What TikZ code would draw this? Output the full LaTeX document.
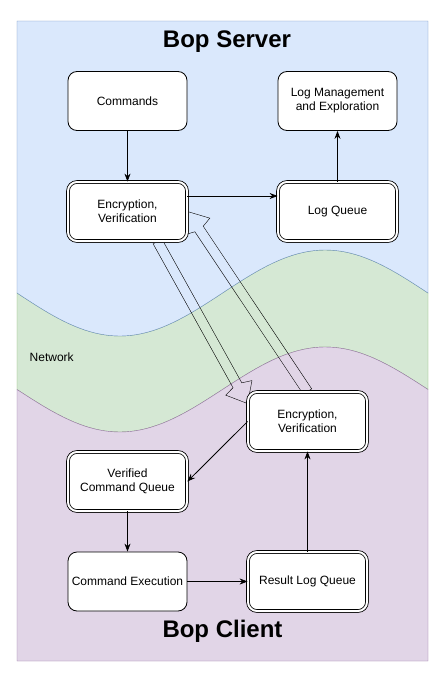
\documentclass[tikz,border=0pt]{standalone}
\usepackage{fontspec}
\setmainfont{Liberation Sans}
\usetikzlibrary{positioning}
\usetikzlibrary{arrows.meta}
\usetikzlibrary{calc}
\definecolor{serverblue}{HTML}{DAE8FC}
\definecolor{serverline}{HTML}{6C8EBF}
\definecolor{netgreen}{HTML}{D5E8D4}
\definecolor{netline}{HTML}{82B366}
\definecolor{clientpurple}{HTML}{E1D5E7}
\definecolor{clientline}{HTML}{9673A6}
\pgfdeclarelayer{back}
\pgfdeclarelayer{pipes}
\pgfsetlayers{back,pipes,main}
\tikzset {
  % rounded process box
  box/.style = {draw, fill=white, rounded corners=9pt, minimum width=119pt, minimum height=59pt,
    align=center, inner sep=2pt, font=\fontsize{12}{14}\selectfont},
  % queues and crypto get a double border
  dbox/.style = {box, double, double distance=2pt},
  title/.style = {font=\fontsize{24}{28}\selectfont\bfseries},
  flow/.style = {-{Stealth[length=8pt,width=6pt]}},
}
% hollow wide arrow from #1 to #2
\newcommand{\bigpipe}[2]{%
  \coordinate (hb) at ($(#2)!18pt!(#1)$);
  \coordinate (hs) at ($(#2)!21pt!(#1)$);
  \draw ($(#1)!5pt!90:(#2)$) -- ($(hs)!5pt!-90:(#1)$) -- ($(hb)!15pt!-90:(#1)$) -- (#2)
    -- ($(hb)!15pt!90:(#1)$) -- ($(hs)!5pt!90:(#1)$) -- ($(#1)!5pt!-90:(#2)$) -- cycle;
}

\begin{document}
\begin{tikzpicture}[x=1pt, y=-1pt, line width=0.8pt]
        \useasboundingbox (0,0) rectangle (445,680);

        % server
        \node[title] (srvtitle) at (227,42) {Bop Server};
        \node[box] (cmds) at (127.5,101) {Commands};
        \node[box] (logM) at (337.5,101) {Log Management\\and Exploration};
        \node[dbox] (encS) at (127.5,211.5) {Encryption,\\Verification};
        \node[dbox] (logQ) at (337.5,211.5) {Log Queue};

        \draw [flow] (cmds) -- (encS);
        \draw [flow] ([yshift=15.5pt]encS.east) -- ([yshift=15.5pt]logQ.west);
        \draw [flow] (logQ) -- (logM);

        \node[anchor=west, font=\fontsize{12}{14}\selectfont] (net) at (26,357) {Network};

        % client
        \node[dbox] (encC) at (307.5,421.5) {Encryption,\\Verification};
        \node[dbox] (verQ) at (127.5,481.5) {Verified\\Command Queue};
        \node[box] (exec) at (127.5,581.5) {Command Execution};
        \node[dbox] (resQ) at (307.5,581.5) {Result Log Queue};
        \node[title] (clttitle) at (222.5,631.5) {Bop Client};

        \draw [flow] (encC.west) -- (verQ.east);
        \draw [flow] (verQ) -- (exec);
        \draw [flow] (exec) -- (resQ);
        \draw [flow] (resQ) -- (encC);

        \coordinate (downtail) at ($(encS.south)+(30,0)$);
        \coordinate (downtip) at ($(encC.north west)+(0,12)$);
        \coordinate (uptail) at (encC.north);
        \coordinate (uptip) at (encS.east);

        \begin{pgfonlayer}{pipes}
          \bigpipe{downtail}{downtip}
          \bigpipe{uptail}{uptip}
        \end{pgfonlayer}

        \begin{pgfonlayer}{back}
          \fill[white] (0,0) rectangle (445,680);
          \draw[netline, fill=netgreen] (17,293)
            -- plot[domain=17:428, samples=80] (\x, {293+43*sin((\x-17)/411*360)})
            -- (428,389.5)
            -- plot[domain=428:17, samples=80] (\x, {389.5+42.5*sin((\x-17)/411*360)}) -- cycle;
          \draw[serverline, fill=serverblue] (17,21) -- (428,21) -- (428,293)
            -- plot[domain=428:17, samples=80] (\x, {293+43*sin((\x-17)/411*360)}) -- cycle;
          \draw[clientline, fill=clientpurple] (17,389.5)
            -- plot[domain=17:428, samples=80] (\x, {389.5+42.5*sin((\x-17)/411*360)})
            -- (428,661) -- (17,661) -- cycle;
        \end{pgfonlayer}
      \end{tikzpicture}
\end{document}
